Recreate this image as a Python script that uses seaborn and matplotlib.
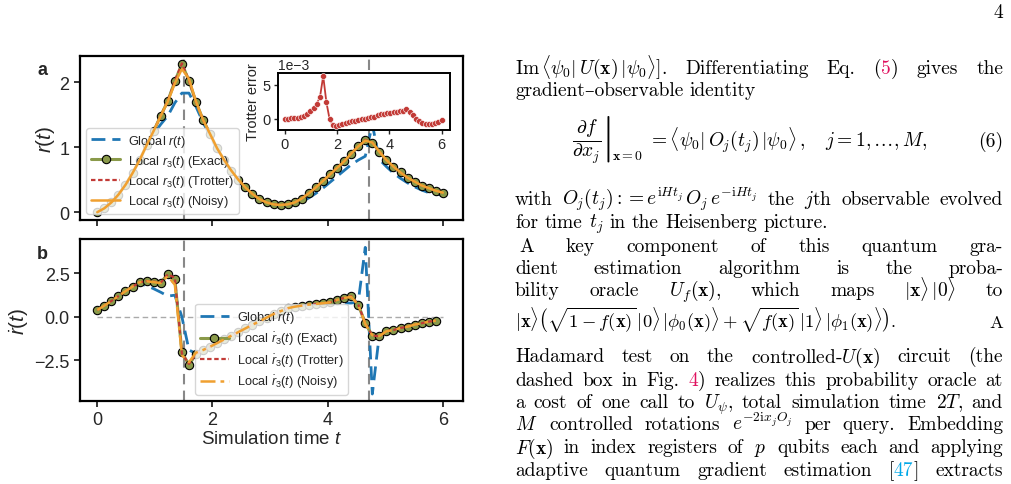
import numpy as np
import matplotlib
matplotlib.use("Agg")
import matplotlib.pyplot as plt
from matplotlib.ticker import MultipleLocator
import seaborn as sns

# ---- data ----
# 50 time samples between 0 and 6
t = np.linspace(0, 6, 50)

r_global = [0.00, 0.06, 0.15, 0.27, 0.42, 0.60, 0.80, 1.02, 1.20, 1.35,
            1.48, 1.68, 1.83, 1.83, 1.62, 1.38, 1.17, 0.96, 0.78, 0.62,
            0.48, 0.36, 0.26, 0.18, 0.13, 0.10, 0.09, 0.10, 0.12, 0.16,
            0.22, 0.29, 0.37, 0.46, 0.55, 0.64, 0.73, 0.80, 0.86, 1.35,
            0.81, 0.70, 0.60, 0.52, 0.45, 0.39, 0.34, 0.30, 0.28, 0.26]

r_exact = [0.00, 0.06, 0.15, 0.27, 0.42, 0.60, 0.80, 1.03, 1.25, 1.48,
           1.71, 2.01, 2.28, 2.02, 1.69, 1.42, 1.20, 0.98, 0.80, 0.64,
           0.50, 0.38, 0.28, 0.20, 0.15, 0.12, 0.11, 0.12, 0.15, 0.21,
           0.29, 0.38, 0.48, 0.58, 0.68, 0.78, 0.90, 1.01, 1.11, 1.07,
           0.93, 0.80, 0.70, 0.61, 0.53, 0.47, 0.41, 0.37, 0.33, 0.30]

r_noisy = [0.00, 0.06, 0.15, 0.27, 0.42, 0.60, 0.80, 1.03, 1.25, 1.48,
           1.70, 1.98, 2.20, 2.05, 1.70, 1.42, 1.20, 0.98, 0.80, 0.64,
           0.50, 0.38, 0.28, 0.20, 0.15, 0.12, 0.11, 0.12, 0.15, 0.21,
           0.29, 0.38, 0.48, 0.58, 0.68, 0.78, 0.90, 1.01, 1.10, 1.07,
           0.93, 0.80, 0.70, 0.61, 0.53, 0.47, 0.41, 0.37, 0.33, 0.30]

# Trotter error (units of 1e-3)
trotter_err = [0.00, 0.00, 0.02, 0.05, 0.10, 0.20, 0.40, 0.70, 1.10, 1.50,
               2.20, 3.20, 6.30, 2.40, -0.10, -1.00, -1.10, -0.95, -0.80, -0.65,
               -0.50, -0.40, -0.30, -0.20, -0.10, 0.00, 0.10, 0.20, 0.30, 0.45,
               0.60, 0.70, 0.80, 0.85, 0.90, 1.00, 1.05, 1.10, 1.35, 0.90,
               0.45, 0.00, -0.35, -0.60, -0.75, -0.80, -0.78, -0.65, -0.45, -0.25]

# time derivative, first 49 samples
dr_global = [0.40, 0.65, 0.92, 1.20, 1.48, 1.74, 1.92, 1.80, 1.62, 1.42,
             1.20, 1.25, 0.00, -1.90, -2.10, -1.95, -1.74, -1.52, -1.31, -1.10,
             -0.89, -0.68, -0.47, -0.27, -0.06, 0.15, 0.30, 0.45, 0.55, 0.62,
             0.68, 0.72, 0.75, 0.78, 0.80, 0.80, 0.80, 0.85, 4.00, -4.43,
             -1.00, -0.85, -0.78, -0.70, -0.62, -0.52, -0.42, -0.33, -0.22]

dr_exact = [0.40, 0.65, 0.92, 1.20, 1.48, 1.74, 1.99, 2.07, 2.03, 1.97,
            2.47, 2.18, -2.03, -2.76, -2.13, -1.92, -1.71, -1.50, -1.29, -1.08,
            -0.87, -0.66, -0.45, -0.25, -0.04, 0.17, 0.33, 0.50, 0.59, 0.65,
            0.71, 0.75, 0.79, 0.84, 0.98, 1.09, 1.19, 0.71, -0.36, -1.07,
            -1.11, -0.82, -0.75, -0.63, -0.56, -0.44, -0.36, -0.27, -0.21]

dr_trotter = [0.40, 0.65, 0.92, 1.20, 1.48, 1.74, 1.99, 2.07, 2.03, 1.97,
              2.45, 2.25, -2.10, -2.70, -2.13, -1.92, -1.71, -1.50, -1.29, -1.08,
              -0.87, -0.66, -0.45, -0.25, -0.04, 0.17, 0.33, 0.50, 0.59, 0.65,
              0.71, 0.75, 0.79, 0.84, 0.98, 1.09, 1.19, 0.71, -0.36, -1.07,
              -1.11, -0.82, -0.75, -0.63, -0.56, -0.44, -0.36, -0.27, -0.21]

dr_noisy = [0.40, 0.65, 0.92, 1.20, 1.48, 1.74, 1.99, 2.05, 2.00, 1.95,
            2.35, 1.85, -2.20, -2.60, -2.05, -1.90, -1.71, -1.50, -1.29, -1.08,
            -0.87, -0.66, -0.45, -0.25, -0.04, 0.17, 0.33, 0.50, 0.59, 0.65,
            0.71, 0.75, 0.79, 0.84, 0.98, 1.09, 1.15, 0.70, -0.40, -1.05,
            -1.10, -0.82, -0.75, -0.63, -0.56, -0.44, -0.36, -0.27, -0.21]

cusp_times = [1.5, 4.72]

BLUE = "#1f77b4"
OLIVE = "#8a9a4a"
RED = "#c23a36"
ORANGE = "#f0a030"
GREY = "#888888"

sns.set_style("ticks")
plt.rcParams["font.family"] = ["Liberation Sans", "DejaVu Sans"]
plt.rcParams["mathtext.fontset"] = "custom"
plt.rcParams["mathtext.rm"] = "Liberation Sans"
plt.rcParams["mathtext.it"] = "Liberation Sans:italic"
plt.rcParams["mathtext.bf"] = "Liberation Sans:bold"

W, H = 1011, 485
fig = plt.figure(figsize=(W / 100, H / 100), dpi=100)


def fig_rect(x0, y0, x1, y1):
    return [x0 / W, 1 - y1 / H, (x1 - x0) / W, (y1 - y0) / H]


ax_a = fig.add_axes(fig_rect(80, 57, 463, 221))
ax_b = fig.add_axes(fig_rect(80, 240, 463, 402))
ax_in = fig.add_axes(fig_rect(278, 74, 450, 131))

tb = t[:len(dr_exact)]
leg_kw = dict(fontsize=9.2, handlelength=2.3, framealpha=0.8, borderpad=0.35,
              labelspacing=0.32, handletextpad=0.6)

# ---- panel a ----
sns.lineplot(x=t, y=r_global, ax=ax_a, color=BLUE, linewidth=2,
             linestyle=(0, (5, 2.5)), label=r"Global $r(t)$", zorder=3)
sns.lineplot(x=t, y=r_exact, ax=ax_a, color=OLIVE, linewidth=2.2, marker="o",
             markersize=6, markeredgecolor="black", markeredgewidth=0.8,
             label=r"Local $r_3(t)$ (Exact)", zorder=4)
sns.lineplot(x=t, y=np.array(r_exact) + np.array(trotter_err) * 1e-3, ax=ax_a,
             color=RED, linewidth=1.6, linestyle=(0, (2, 1.2)),
             label=r"Local $r_3(t)$ (Trotter)", zorder=5)
sns.lineplot(x=t, y=r_noisy, ax=ax_a, color=ORANGE, linewidth=1.8,
             label=r"Local $r_3(t)$ (Noisy)", zorder=6)
for c in cusp_times:
    ax_a.axvline(c, color=GREY, lw=1.5, ls=(0, (5, 3)), zorder=2)
ax_a.set_xlim(-0.3, 6.35)
ax_a.set_ylim(-0.12, 2.4)
ax_a.yaxis.set_major_locator(MultipleLocator(1))
ax_a.xaxis.set_major_locator(MultipleLocator(2))
ax_a.tick_params(labelbottom=False)
ax_a.set_ylabel(r"$r(t)$", fontsize=15, labelpad=2)
ax_a.legend(loc="lower left", **leg_kw)

# ---- inset: Trotter error ----
sns.lineplot(x=t, y=np.array(trotter_err) * 1e-3, ax=ax_in, color=RED,
             linewidth=1.3, marker="o", markersize=4.3, markeredgecolor="white",
             markeredgewidth=0.4, zorder=3)
ax_in.set_xlim(-0.26, 6.32)
ax_in.set_ylim(-1.7e-3, 6.75e-3)
ax_in.xaxis.set_major_locator(MultipleLocator(2))
ax_in.yaxis.set_major_locator(MultipleLocator(5e-3))
ax_in.ticklabel_format(axis="y", style="sci", scilimits=(-3, -3))
ax_in.yaxis.get_offset_text().set_fontsize(10)
ax_in.set_ylabel("Trotter error", fontsize=10.5, labelpad=2)
ax_in.tick_params(labelsize=10.5, length=3, width=1, pad=2)

# ---- panel b ----
sns.lineplot(x=tb, y=dr_global, ax=ax_b, color=BLUE, linewidth=2,
             linestyle=(0, (5, 2.5)), label=r"Global $\dot{r}(t)$", zorder=3)
sns.lineplot(x=tb, y=dr_exact, ax=ax_b, color=OLIVE, linewidth=2.2, marker="o",
             markersize=6, markeredgecolor="black", markeredgewidth=0.8,
             label=r"Local $\dot{r}_3(t)$ (Exact)", zorder=4)
sns.lineplot(x=tb, y=dr_trotter, ax=ax_b, color=RED, linewidth=1.6,
             linestyle=(0, (2, 1.2)), label=r"Local $\dot{r}_3(t)$ (Trotter)", zorder=5)
sns.lineplot(x=tb, y=dr_noisy, ax=ax_b, color=ORANGE, linewidth=1.8,
             linestyle=(0, (6, 2, 1.5, 2)), label=r"Local $\dot{r}_3(t)$ (Noisy)", zorder=6)
ax_b.hlines(0, t[0], t[-1], color="#aaaaaa", lw=1, ls=(0, (4, 2.5)), zorder=1)
for c in cusp_times:
    ax_b.axvline(c, color=GREY, lw=1.5, ls=(0, (5, 3)), zorder=2)
ax_b.set_xlim(-0.3, 6.35)
ax_b.set_ylim(-4.83, 4.48)
ax_b.yaxis.set_major_locator(MultipleLocator(2.5))
ax_b.xaxis.set_major_locator(MultipleLocator(2))
ax_b.set_ylabel(r"$\dot{r}(t)$", fontsize=15, labelpad=2)
ax_b.set_xlabel(r"Simulation time $t$", fontsize=13.5, labelpad=1)
ax_b.legend(loc="lower center", **leg_kw)

for ax in (ax_a, ax_b, ax_in):
    for s in ax.spines.values():
        s.set_linewidth(1.6 if ax is not ax_in else 1.4)
        s.set_color("black")
for ax in (ax_a, ax_b):
    ax.tick_params(labelsize=13, length=4.5, width=1.3, pad=3)

fig.text(37 / W, 1 - 75 / H, "a", fontsize=13, fontweight="bold")
fig.text(37 / W, 1 - 259 / H, "b", fontsize=13, fontweight="bold")

# ---- page text on the right ----
SERIF = ["cmr10", "DejaVu Serif"]
PINK = "#e0115f"
CYAN = "#00a8e8"
FS = 14
renderer = fig.canvas.get_renderer()


def put(s, x, y, size=FS, color="black", ha="left"):
    a = fig.text(x / W, 1 - y / H, s, color=color, fontsize=size, family=SERIF,
                 math_fontfamily="cm", va="baseline", ha=ha)
    return a, a.get_window_extent(renderer).width


def text_line(words, y, x0, x1=None, size=FS):
    groups, widths = [], []
    for word in words:
        if isinstance(word, str):
            word = [(word, "black")]
        parts, w = [], 0.0
        for s, c in word:
            a, pw = put(s, 0, y, size, c)
            parts.append((a, pw))
            w += pw
        groups.append(parts)
        widths.append(w)
    if x1 is None or len(words) == 1:
        gap = size * 100 / 72 * 0.33
    else:
        gap = (x1 - x0 - sum(widths)) / (len(words) - 1)
    x = x0
    for parts, w in zip(groups, widths):
        xx = x
        for a, pw in parts:
            a.set_position((xx / W, 1 - y / H))
            xx += pw
        x += w + gap


L, R = 515, 1003
put("4", R, 18, ha="right")
text_line([r"$\mathrm{Im}\,\langle\psi_0|\,U(\mathbf{x})\,|\psi_0\rangle].$", "Differentiating",
           "Eq.", [("(", "black"), ("5", PINK), (")", "black")], "gives", "the"], 74, L, R)
text_line(["gradient\u2013observable", "identity"], 96, L)

# displayed equation (6)
_, w_frac = put(r"$\left.\dfrac{\partial f}{\partial x_j}\right|$", 572, 147)
_, w_sub = put(r"$\mathbf{x}=\mathbf{0}$", 572 + w_frac + 1, 160, size=10)
put(r"$= \langle\psi_0|\,O_j(t_j)\,|\psi_0\rangle\,,\quad j=1,\ldots,M,$",
    572 + w_frac + w_sub + 6, 147)
put("(6)", R, 147, ha="right")

text_line(["with", r"$O_j(t_j) := e^{\mathrm{i}Ht_j}\,O_j\,e^{-\mathrm{i}Ht_j}$", "the",
           r"$j$th", "observable", "evolved"], 205, L, R)
text_line(["for", "time", r"$t_j$", "in", "the", "Heisenberg", "picture."], 228, L)
text_line(["A", "key", "component", "of", "this", "quantum", "gra-"], 251.5, 519, R)
text_line(["dient", "estimation", "algorithm", "is", "the", "proba-"], 274.5, L, R)
text_line(["bility", "oracle", r"$U_f(\mathbf{x})$,", "which", "maps",
           r"$|\mathbf{x}\rangle\,|\mathbf{0}\rangle$", "to"], 296.5, L, R)
text_line([r"$|\mathbf{x}\rangle\left(\sqrt{1-f(\mathbf{x})}\,|0\rangle\,|\phi_0(\mathbf{x})\rangle"
           r"+\sqrt{f(\mathbf{x})}\,|1\rangle\,|\phi_1(\mathbf{x})\rangle\right).$", "A"],
          328, L, R, size=13.3)
text_line(["Hadamard", "test", "on", "the", r"controlled-$U(\mathbf{x})$", "circuit", "(the"], 362.5, L, R)
text_line(["dashed", "box", "in", "Fig.", [("4", PINK), (")", "black")], "realizes", "this",
           "probability", "oracle", "at"], 386, L, R)
text_line(["a", "cost", "of", "one", "call", "to", r"$U_\psi$,", "total", "simulation", "time",
           r"$2T$,", "and"], 408.5, L, R)
text_line([r"$M$", "controlled", "rotations", r"$e^{-2\mathrm{i}x_jO_j}$", "per", "query.",
           "Embedding"], 430.5, L, R)
text_line([r"$F(\mathbf{x})$", "in", "index", "registers", "of", r"$p$", "qubits", "each", "and",
           "applying"], 453.5, L, R)
text_line(["adaptive", "quantum", "gradient", "estimation",
           [("[", "black"), ("47", CYAN), ("]", "black")], "extracts"], 476.5, L, R)

fig.savefig("out.png", dpi=100)
